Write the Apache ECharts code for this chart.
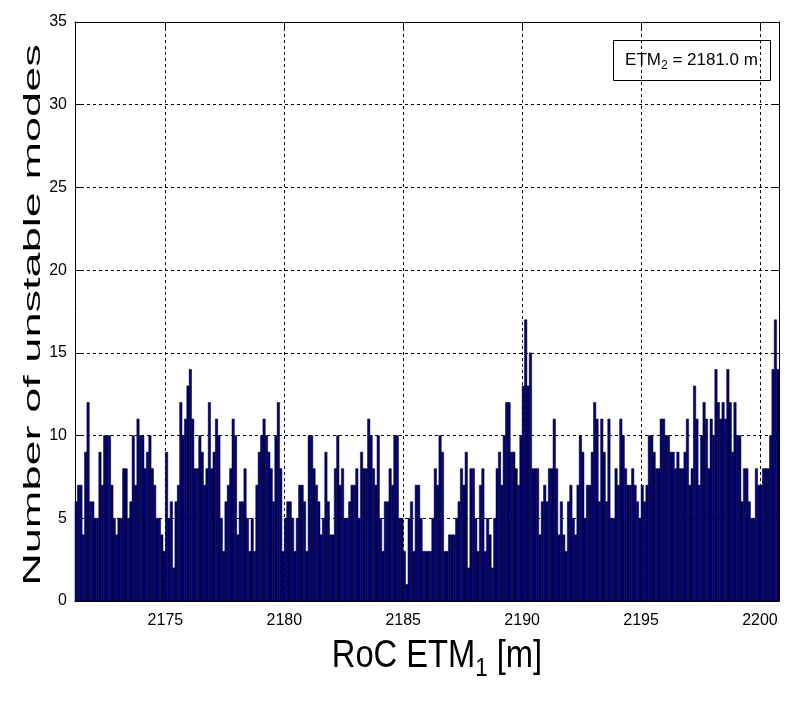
<!DOCTYPE html>
<html>
<head>
<meta charset="utf-8">
<script src="https://cdn.jsdelivr.net/npm/echarts@6/dist/echarts.min.js"></script>
<style>
  html, body { margin: 0; padding: 0; background: #ffffff; }
  #chart { width: 786px; height: 704px; }
</style>
</head>
<body>
<div id="chart"></div>
<script>
// Histogram of unstable mode counts versus the radius of curvature of ETM1.
const xStart = 2171.2;
const xEnd = 2200.8;
const binWidth = 0.1;

// Mode counts, one per 0.1 m bin, in blocks of roughly 2.5 m.
const modesBlock1  = [6,7,7,4,9,12,6,6,5,5,9,7,10,10,10,7,5,4,5,5,8,8,5,6];
const modesBlock2  = [10,7,11,10,10,8,9,10,8,7,5,5,4,3,9,5,6,2,6,7,12,10,11,13,14];
const modesBlock3  = [11,8,8,10,9,7,8,12,8,9,11,10,5,3,6,7,8,11,10,4,6,6,8,5,3];
const modesBlock4  = [5,3,7,9,10,11,10,9,8,6,10,12,8,3,5,6,6,5,3,5,7,7,6,3,10];
const modesBlock5  = [10,8,7,6,4,5,9,6,4,4,8,10,7,8,5,5,6,7,7,8,5,9,8,8,11];
const modesBlock6  = [10,8,7,10,5,3,6,6,8,7,10,10,5,5,3,1,5,6,3,7,7,5,3,3,3];
const modesBlock7  = [3,5,8,7,10,9,3,3,4,4,4,5,6,8,7,9,2,8,8,5,3,7,8,3,5];
const modesBlock8  = [4,2,5,8,9,7,10,12,12,9,9,8,7,10,13,17,13,15,8,8,8,4,6,7];
const modesBlock9  = [6,8,8,11,8,4,6,4,3,6,7,5,4,7,10,9,5,7,7,9,12,11,6,11];
const modesBlock10 = [9,6,11,5,5,8,7,11,10,8,7,7,8,7,6,5,7,6,7,10,10,9,8,8,11];
const modesBlock11 = [11,10,10,9,9,8,9,8,8,9,11,7,8,13,11,7,10,12,11,8,11,10,14,12,11];
const modesBlock12 = [12,11,14,12,9,12,10,10,6,8,8,6,5,5,8,7,7,8,8,8,10,14,17,14];

const xTicks = [2175, 2180, 2185, 2190, 2195, 2200];
const yMin = 0, yMax = 35, yStep = 5;

const legendLabel = 'ETM{sub|2} = 2181.0 m';
const xTitle = 'RoC ETM{sub|1} [m]';
const yTitle = 'Number of unstable modes';

const counts = [].concat(
  modesBlock1, modesBlock2, modesBlock3, modesBlock4, modesBlock5, modesBlock6,
  modesBlock7, modesBlock8, modesBlock9, modesBlock10, modesBlock11, modesBlock12
);
const barData = counts.map((v, i) => [xStart + binWidth * (i + 0.5), v]);

const FONT = '"Liberation Sans", Arial, sans-serif';
const dash = { color: '#000', width: 1, type: [3, 3] };

// Each bin is a rectangle spanning its full 0.1 m width.
function renderBin(params, api) {
  const x = api.value(0);
  const y = api.value(1);
  const topLeft = api.coord([x - binWidth / 2, y]);
  const bottomRight = api.coord([x + binWidth / 2, 0]);
  return {
    type: 'rect',
    shape: {
      x: topLeft[0], y: topLeft[1],
      width: bottomRight[0] - topLeft[0],
      height: bottomRight[1] - topLeft[1]
    },
    style: { fill: '#000080', stroke: '#000000', lineWidth: 0.5 }
  };
}

const chart = echarts.init(document.getElementById('chart'), null, { renderer: 'canvas' });

chart.setOption({
  animation: false,
  backgroundColor: '#ffffff',
  grid: { left: 75, right: 7, top: 22, bottom: 103, show: false },
  xAxis: [
    {
      type: 'value', min: xStart, max: xEnd, position: 'bottom',
      axisLine: { show: true, onZero: false, lineStyle: { color: '#000', width: 1 } },
      axisTick: { show: true, inside: true, length: 6, customValues: xTicks, lineStyle: { color: '#000' } },
      axisLabel: { show: true, customValues: xTicks, formatter: v => String(v),
                   color: '#000', fontSize: 16, fontFamily: FONT, margin: 12 },
      splitLine: { show: true, lineStyle: dash }
    },
    {
      type: 'value', min: xStart, max: xEnd, position: 'top',
      axisLine: { show: true, onZero: false, lineStyle: { color: '#000', width: 1 } },
      axisTick: { show: true, inside: true, length: 6, customValues: xTicks, lineStyle: { color: '#000' } },
      axisLabel: { show: false },
      splitLine: { show: false }
    }
  ],
  yAxis: [
    {
      type: 'value', min: yMin, max: yMax, interval: yStep, position: 'left',
      axisLine: { show: true, onZero: false, lineStyle: { color: '#000', width: 1 } },
      axisTick: { show: true, inside: true, length: 6, lineStyle: { color: '#000' } },
      axisLabel: { show: true, color: '#000', fontSize: 16, fontFamily: FONT, margin: 8 },
      splitLine: { show: true, lineStyle: dash }
    },
    {
      type: 'value', min: yMin, max: yMax, interval: yStep, position: 'right',
      axisLine: { show: true, onZero: false, lineStyle: { color: '#000', width: 1 } },
      axisTick: { show: true, inside: true, length: 6, lineStyle: { color: '#000' } },
      axisLabel: { show: false },
      splitLine: { show: false }
    }
  ],
  series: [
    {
      type: 'custom',
      xAxisIndex: 0,
      yAxisIndex: 0,
      data: barData,
      encode: { x: 0, y: 1 },
      renderItem: renderBin,
      emphasis: { disabled: true },
      z: 3
    }
  ],
  graphic: [
    {
      type: 'group', left: 613, top: 40,
      children: [
        { type: 'rect', shape: { x: 0, y: 0, width: 157, height: 40 },
          style: { fill: '#fff', stroke: '#000', lineWidth: 1 } },
        { type: 'text', x: 78, y: 20, scaleX: 1.0,
          style: {
            text: legendLabel, fill: '#000', align: 'center', verticalAlign: 'middle',
            font: '17px ' + FONT,
            rich: { sub: { fontSize: 12, fontFamily: FONT, padding: [10, 0, 0, 0] } }
          } }
      ]
    },
    {
      type: 'text', x: 437, y: 657, scaleX: 0.86,
      style: {
        text: xTitle, fill: '#000', align: 'center', verticalAlign: 'middle',
        font: '38px ' + FONT,
        rich: { sub: { fontSize: 26, fontFamily: FONT, padding: [24, 0, 0, 0] } }
      }
    },
    {
      type: 'text', x: 33, y: 315, rotation: Math.PI / 2, scaleX: 1.88,
      style: {
        text: yTitle, fill: '#000', align: 'center', verticalAlign: 'middle',
        font: '24px ' + FONT
      }
    }
  ]
});
</script>
</body>
</html>
